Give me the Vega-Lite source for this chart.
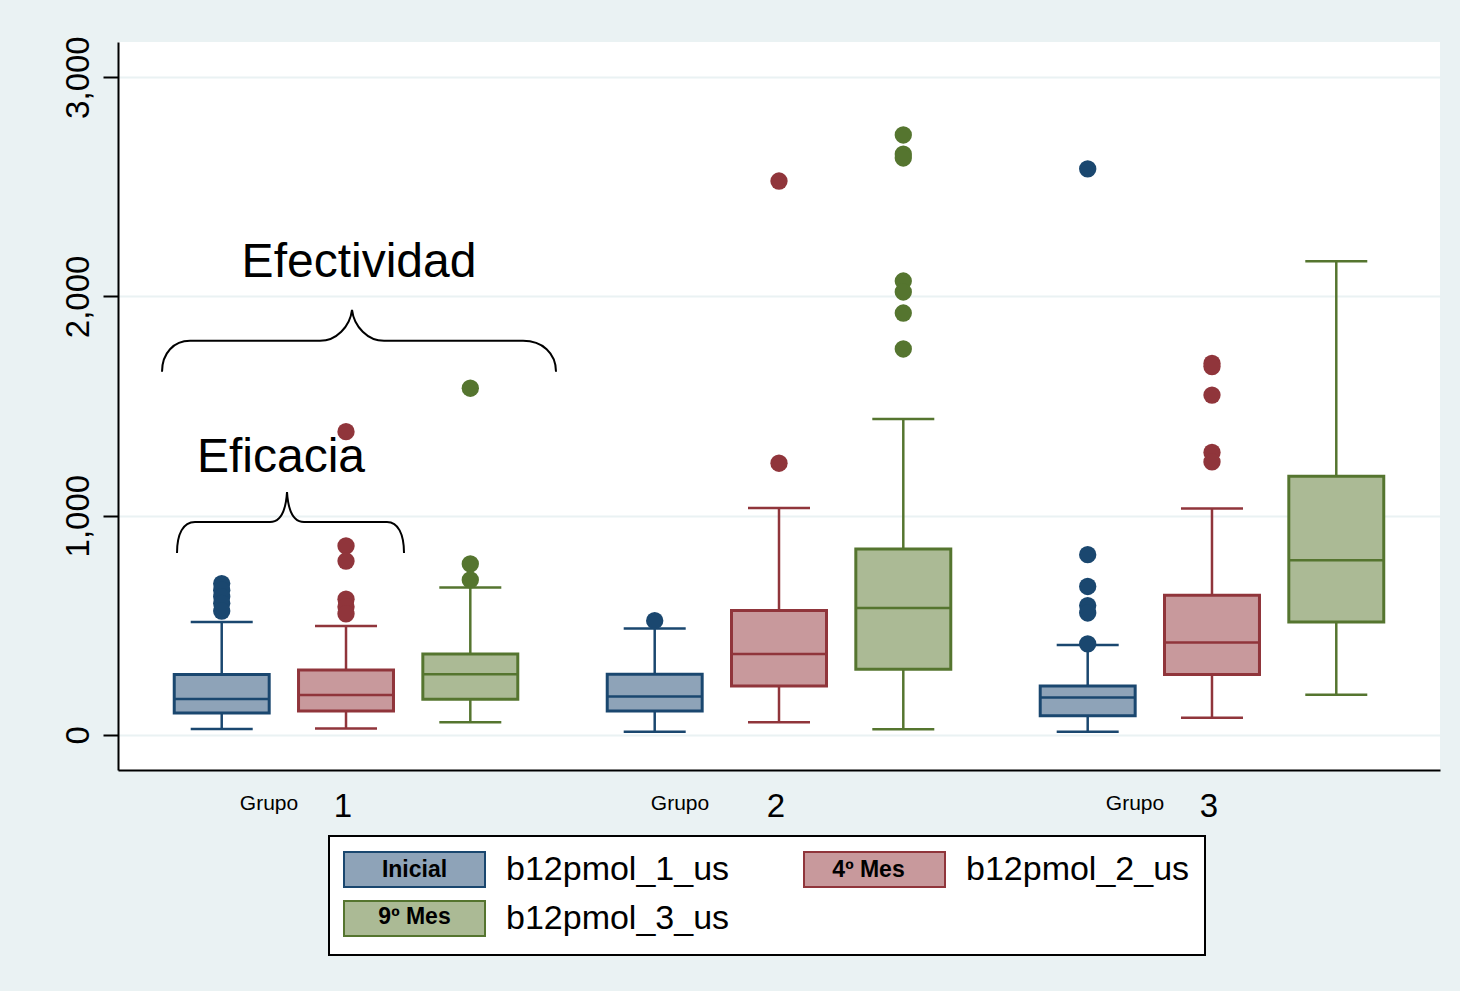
{
  "$schema": "https://vega.github.io/schema/vega-lite/v6.json",
  "width": 1322,
  "height": 728,
  "autosize": "none",
  "padding": {"left": 118, "top": 42, "right": 20, "bottom": 221},
  "background": "#eaf2f3",
  "view": {"fill": "white", "stroke": null},
  "config": {"font": "Liberation Sans", "legend": {"strokeWidth": 2}},
  "datasets": {
    "cajas": [
      {"grupo": "1", "serie": "b12pmol_1_us", "etiqueta": "Inicial", "minimo": 27, "q1": 100, "mediana": 164, "q3": 276, "maximo": 515},
      {"grupo": "1", "serie": "b12pmol_2_us", "etiqueta": "4º Mes", "minimo": 29, "q1": 109, "mediana": 182, "q3": 296, "maximo": 497},
      {"grupo": "1", "serie": "b12pmol_3_us", "etiqueta": "9º Mes", "minimo": 58, "q1": 163, "mediana": 277, "q3": 369, "maximo": 672},
      {"grupo": "2", "serie": "b12pmol_1_us", "etiqueta": "Inicial", "minimo": 15, "q1": 109, "mediana": 175, "q3": 277, "maximo": 485},
      {"grupo": "2", "serie": "b12pmol_2_us", "etiqueta": "4º Mes", "minimo": 58, "q1": 223, "mediana": 369, "q3": 567, "maximo": 1035},
      {"grupo": "2", "serie": "b12pmol_3_us", "etiqueta": "9º Mes", "minimo": 26, "q1": 300, "mediana": 579, "q3": 848, "maximo": 1441},
      {"grupo": "3", "serie": "b12pmol_1_us", "etiqueta": "Inicial", "minimo": 14, "q1": 87, "mediana": 171, "q3": 223, "maximo": 410},
      {"grupo": "3", "serie": "b12pmol_2_us", "etiqueta": "4º Mes", "minimo": 78, "q1": 276, "mediana": 421, "q3": 637, "maximo": 1033},
      {"grupo": "3", "serie": "b12pmol_3_us", "etiqueta": "9º Mes", "minimo": 183, "q1": 515, "mediana": 796, "q3": 1180, "maximo": 2160}
    ],
    "atipicos": [
      {"grupo": "1", "serie": "b12pmol_1_us", "valor": 690},
      {"grupo": "1", "serie": "b12pmol_1_us", "valor": 660},
      {"grupo": "1", "serie": "b12pmol_1_us", "valor": 630},
      {"grupo": "1", "serie": "b12pmol_1_us", "valor": 600},
      {"grupo": "1", "serie": "b12pmol_1_us", "valor": 565},
      {"grupo": "1", "serie": "b12pmol_2_us", "valor": 1383},
      {"grupo": "1", "serie": "b12pmol_2_us", "valor": 862},
      {"grupo": "1", "serie": "b12pmol_2_us", "valor": 793},
      {"grupo": "1", "serie": "b12pmol_2_us", "valor": 619},
      {"grupo": "1", "serie": "b12pmol_2_us", "valor": 585},
      {"grupo": "1", "serie": "b12pmol_2_us", "valor": 552},
      {"grupo": "1", "serie": "b12pmol_3_us", "valor": 1581},
      {"grupo": "1", "serie": "b12pmol_3_us", "valor": 780},
      {"grupo": "1", "serie": "b12pmol_3_us", "valor": 707},
      {"grupo": "2", "serie": "b12pmol_1_us", "valor": 521},
      {"grupo": "2", "serie": "b12pmol_2_us", "valor": 2526},
      {"grupo": "2", "serie": "b12pmol_2_us", "valor": 1239},
      {"grupo": "2", "serie": "b12pmol_3_us", "valor": 2736},
      {"grupo": "2", "serie": "b12pmol_3_us", "valor": 2649},
      {"grupo": "2", "serie": "b12pmol_3_us", "valor": 2631},
      {"grupo": "2", "serie": "b12pmol_3_us", "valor": 2070},
      {"grupo": "2", "serie": "b12pmol_3_us", "valor": 2020},
      {"grupo": "2", "serie": "b12pmol_3_us", "valor": 1924},
      {"grupo": "2", "serie": "b12pmol_3_us", "valor": 1760},
      {"grupo": "3", "serie": "b12pmol_1_us", "valor": 2581},
      {"grupo": "3", "serie": "b12pmol_1_us", "valor": 822},
      {"grupo": "3", "serie": "b12pmol_1_us", "valor": 677},
      {"grupo": "3", "serie": "b12pmol_1_us", "valor": 590},
      {"grupo": "3", "serie": "b12pmol_1_us", "valor": 556},
      {"grupo": "3", "serie": "b12pmol_1_us", "valor": 415},
      {"grupo": "3", "serie": "b12pmol_2_us", "valor": 1694},
      {"grupo": "3", "serie": "b12pmol_2_us", "valor": 1680},
      {"grupo": "3", "serie": "b12pmol_2_us", "valor": 1550},
      {"grupo": "3", "serie": "b12pmol_2_us", "valor": 1288},
      {"grupo": "3", "serie": "b12pmol_2_us", "valor": 1245}
    ]
  },
  "layer": [
    {
      "data": {"name": "cajas"},
      "mark": {"type": "rule", "strokeWidth": 2.5, "opacity": 1},
      "encoding": {
        "x": {"field": "grupo", "type": "nominal", "scale": {"type": "band", "paddingInner": 0.1, "paddingOuter": 0.0766},
          "axis": {"orient": "bottom", "title": null, "labelExpr": "'Grupo'", "labelFontSize": 21, "labelColor": "black", "labelPadding": 22, "labelBaseline": "top", "labelAngle": 0,
            "labelOffset": {"condition": {"test": "datum.value === '2'", "value": -99}, "value": -77},
            "domain": false, "ticks": false, "tickSize": 0, "grid": false}},
        "xOffset": {"field": "serie", "type": "nominal", "scale": {"type": "band", "paddingInner": 0.236, "paddingOuter": 0.1856}},
        "y": {"field": "q3", "type": "quantitative", "scale": {"domain": [-160, 3160], "nice": false, "zero": false},
          "axis": {"title": null, "values": [0, 1000, 2000, 3000], "format": ",.0f", "labelAngle": -90, "labelAlign": "center", "labelBaseline": "alphabetic", "labelFontSize": 33, "labelColor": "black", "labelPadding": 15, "tickSize": 15, "tickWidth": 2, "tickColor": "black", "domainColor": "black", "domainWidth": 2, "grid": true, "gridColor": "#eaf2f3", "gridWidth": 2}},
        "y2": {"field": "maximo"},
        "color": {"field": "serie", "type": "nominal", "scale": {"range": ["#1a476f", "#90353b", "#55752f"]}, "legend": null}
      }
    },
    {
      "data": {"name": "cajas"},
      "mark": {"type": "rule", "strokeWidth": 2.5, "opacity": 1},
      "encoding": {
        "x": {"field": "grupo", "type": "nominal", "scale": {"type": "band"}, "axis": null},
        "xOffset": {"field": "serie", "type": "nominal", "scale": {"type": "band"}},
        "y": {"field": "minimo", "type": "quantitative", "title": null},
        "y2": {"field": "q1"},
        "color": {"field": "serie", "type": "nominal", "legend": null}
      }
    },
    {
      "data": {"name": "cajas"},
      "mark": {"type": "bar", "strokeWidth": 3, "opacity": 1},
      "encoding": {
        "x": {"field": "grupo", "type": "nominal", "scale": {"type": "band"},
          "axis": {"orient": "bottom", "title": null, "labelFontSize": 33, "labelColor": "black", "labelPadding": 20, "labelBaseline": "top", "labelAngle": 0, "labelOffset": -3,
            "domain": true, "domainColor": "black", "domainWidth": 2, "ticks": false, "tickSize": 0, "grid": false}},
        "xOffset": {"field": "serie", "type": "nominal", "scale": {"type": "band"}},
        "y": {"field": "q1", "type": "quantitative", "title": null},
        "y2": {"field": "q3"},
        "fill": {"field": "serie", "type": "nominal", "scale": {"range": ["#8ea3b8", "#c8999c", "#abba95"]},
          "legend": {"title": null, "orient": "none", "legendX": 211, "legendY": 794, "direction": "horizontal", "columns": 2,
            "symbolType": "M-1.057,-1H7V1H-1.057Z", "symbolSize": 1225, "symbolStrokeWidth": 2, "symbolOpacity": 1,
            "labelFontSize": 34, "labelColor": "black", "labelOffset": 125, "labelLimit": 500,
            "columnPadding": 70, "rowPadding": 6, "padding": 15, "strokeColor": "black", "fillColor": "white", "zindex": 1}},
        "stroke": {"field": "serie", "type": "nominal", "scale": {"range": ["#1a476f", "#90353b", "#55752f"]},
          "legend": {"title": null, "orient": "none", "legendX": 211, "legendY": 794, "direction": "horizontal", "columns": 2,
            "symbolType": "M-1.057,-1H7V1H-1.057Z", "symbolSize": 1225, "symbolStrokeWidth": 2, "symbolOpacity": 1,
            "labelFontSize": 34, "labelColor": "black", "labelOffset": 125, "labelLimit": 500,
            "columnPadding": 70, "rowPadding": 6, "padding": 15, "strokeColor": "black", "fillColor": "white", "zindex": 1}},
        "strokeDash": {"field": "etiqueta", "type": "nominal", "scale": {"domain": ["Inicial", "4º Mes", "9º Mes"], "range": [[1, 0], [1, 0], [1, 0]]},
          "legend": {"title": null, "orient": "none", "legendX": 211, "legendY": 794, "direction": "horizontal", "columns": 2,
            "symbolType": "M-1.057,-1H7V1H-1.057Z", "symbolSize": 1225, "symbolStrokeWidth": 2, "symbolOpacity": 0,
            "symbolFillColor": "transparent", "symbolStrokeColor": "transparent",
            "labelFontSize": 23, "labelFontWeight": "bold", "labelColor": "black", "labelAlign": "center", "labelOffset": 33.5, "labelLimit": 300,
            "columnPadding": 313, "rowPadding": 11, "padding": 15, "zindex": 2}}
      }
    },
    {
      "data": {"name": "cajas"},
      "mark": {"type": "tick", "orient": "horizontal", "size": 62, "thickness": 2.5, "opacity": 1},
      "encoding": {
        "x": {"field": "grupo", "type": "nominal", "scale": {"type": "band"}, "axis": null},
        "xOffset": {"field": "serie", "type": "nominal", "scale": {"type": "band"}},
        "y": {"field": "maximo", "type": "quantitative", "title": null},
        "color": {"field": "serie", "type": "nominal", "legend": null}
      }
    },
    {
      "data": {"name": "cajas"},
      "mark": {"type": "tick", "orient": "horizontal", "size": 62, "thickness": 2.5, "opacity": 1},
      "encoding": {
        "x": {"field": "grupo", "type": "nominal", "scale": {"type": "band"}, "axis": null},
        "xOffset": {"field": "serie", "type": "nominal", "scale": {"type": "band"}},
        "y": {"field": "minimo", "type": "quantitative", "title": null},
        "color": {"field": "serie", "type": "nominal", "legend": null}
      }
    },
    {
      "data": {"name": "cajas"},
      "mark": {"type": "tick", "orient": "horizontal", "size": 94, "thickness": 2.5, "opacity": 1},
      "encoding": {
        "x": {"field": "grupo", "type": "nominal", "scale": {"type": "band"}, "axis": null},
        "xOffset": {"field": "serie", "type": "nominal", "scale": {"type": "band"}},
        "y": {"field": "mediana", "type": "quantitative", "title": null},
        "color": {"field": "serie", "type": "nominal", "legend": null}
      }
    },
    {
      "data": {"name": "atipicos"},
      "mark": {"type": "point", "shape": "circle", "filled": true, "size": 300, "opacity": 1},
      "encoding": {
        "x": {"field": "grupo", "type": "nominal", "scale": {"type": "band"}, "axis": null},
        "xOffset": {"field": "serie", "type": "nominal", "scale": {"type": "band"}},
        "y": {"field": "valor", "type": "quantitative", "title": null},
        "color": {"field": "serie", "type": "nominal", "legend": null}
      }
    },
    {
      "data": {"values": [{"texto": "Efectividad"}]},
      "mark": {"type": "text", "fontSize": 48, "align": "center", "baseline": "alphabetic", "dx": 13, "color": "black"},
      "encoding": {
        "text": {"field": "texto"},
        "x": {"datum": "1", "type": "nominal", "scale": {"type": "band"}, "axis": null},
        "y": {"datum": 2089, "type": "quantitative"}
      }
    },
    {
      "data": {"values": [{"texto": "Eficacia"}]},
      "mark": {"type": "text", "fontSize": 48, "align": "center", "baseline": "alphabetic", "dx": -65, "color": "black"},
      "encoding": {
        "text": {"field": "texto"},
        "x": {"datum": "1", "type": "nominal", "scale": {"type": "band"}, "axis": null},
        "y": {"datum": 1201, "type": "quantitative"}
      }
    },
    {
      "data": {"values": [{"llave": "Efectividad"}]},
      "mark": {"type": "point", "shape": "M-0.92,0.155C-0.92,0.06,-0.86,0,-0.78,0L-0.13,0C-0.05,0,0.02,-0.07,0.03,-0.155C0.04,-0.07,0.11,0,0.19,0L0.885,0C0.98,0,1.05,0.06,1.05,0.155", "size": 160000, "filled": false, "stroke": "black", "strokeWidth": 2, "opacity": 1},
      "encoding": {
        "x": {"datum": "1", "type": "nominal", "scale": {"type": "band"}, "axis": null},
        "y": {"datum": 1797, "type": "quantitative"}
      }
    },
    {
      "data": {"values": [{"llave": "Eficacia"}]},
      "mark": {"type": "point", "shape": "M-0.845,0.155C-0.845,0.06,-0.815,0,-0.755,0L-0.38,0C-0.32,0,-0.3,-0.07,-0.295,-0.15C-0.29,-0.07,-0.27,0,-0.21,0L0.205,0C0.26,0,0.29,0.06,0.29,0.155", "size": 160000, "filled": false, "stroke": "black", "strokeWidth": 2, "opacity": 1},
      "encoding": {
        "x": {"datum": "1", "type": "nominal", "scale": {"type": "band"}, "axis": null},
        "y": {"datum": 971, "type": "quantitative"}
      }
    }
  ],
  "resolve": {"axis": {"x": "independent"}}
}
